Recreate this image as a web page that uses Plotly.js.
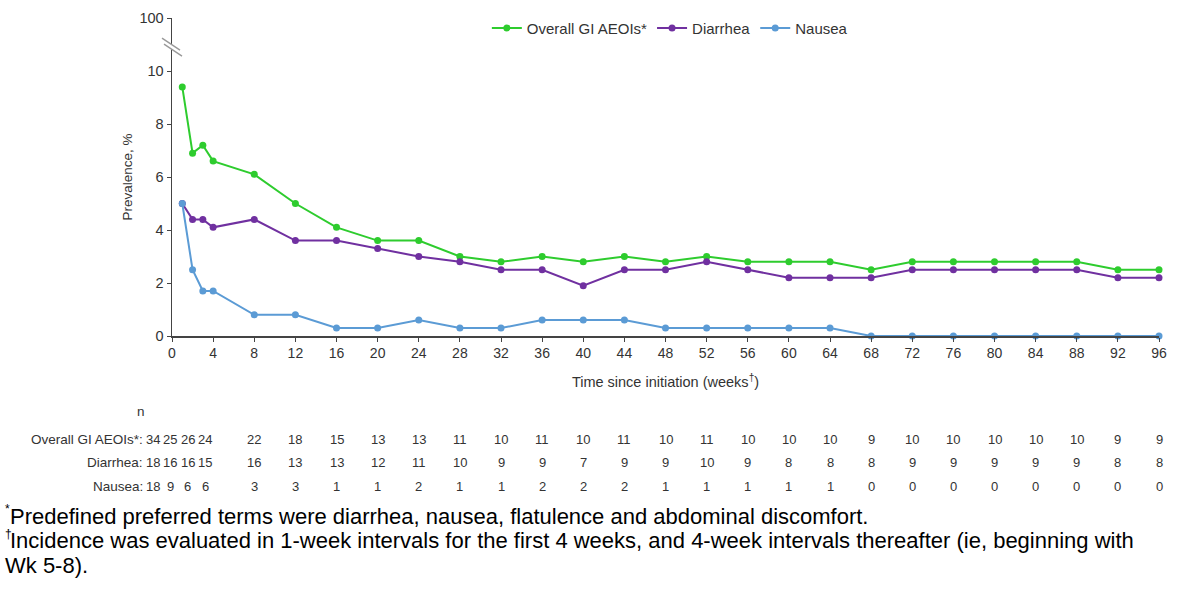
<!DOCTYPE html>
<html>
<head>
<meta charset="utf-8">
<script src="https://cdn.plot.ly/plotly-3.0.1.min.js"></script>
<style>html,body{margin:0;padding:0;background:#fff;}#chart{width:1200px;height:589px;}</style>
</head>
<body>
<div id="chart"></div>
<script>
// ---- Data ----
const weeks = [1,2,3,4,8,12,16,20,24,28,32,36,40,44,48,52,56,60,64,68,72,76,80,84,88,92,96];
const overallPct  = [9.4,6.9,7.2,6.6,6.1,5.0,4.1,3.6,3.6,3.0,2.8,3.0,2.8,3.0,2.8,3.0,2.8,2.8,2.8,2.5,2.8,2.8,2.8,2.8,2.8,2.5,2.5];
const diarrheaPct = [5.0,4.4,4.4,4.1,4.4,3.6,3.6,3.3,3.0,2.8,2.5,2.5,1.9,2.5,2.5,2.8,2.5,2.2,2.2,2.2,2.5,2.5,2.5,2.5,2.5,2.2,2.2];
const nauseaPct   = [5.0,2.5,1.7,1.7,0.8,0.8,0.3,0.3,0.6,0.3,0.3,0.6,0.6,0.6,0.3,0.3,0.3,0.3,0.3,0,0,0,0,0,0,0,0];
const overallN  = [34,25,26,24,22,18,15,13,13,11,10,11,10,11,10,11,10,10,10,9,10,10,10,10,10,9,9];
const diarrheaN = [18,16,16,15,16,13,13,12,11,10,9,9,7,9,9,10,9,8,8,8,9,9,9,9,9,8,8];
const nauseaN   = [18,9,6,6,3,3,1,1,2,1,1,2,2,2,1,1,1,1,1,0,0,0,0,0,0,0,0];
const seriesNames = ['Overall GI AEOIs*','Diarrhea','Nausea'];
const rowLabels = ['Overall GI AEOIs*:','Diarrhea:','Nausea:'];
const xTickVals = [0,4,8,12,16,20,24,28,32,36,40,44,48,52,56,60,64,68,72,76,80,84,88,92,96];
const yTickVals = [0,2,4,6,8,10,12];
const yTickText = ['0','2','4','6','8','10','100'];
const footMarks = ['*','†',''];
const footnotes = [
  'Predefined preferred terms were diarrhea, nausea, flatulence and abdominal discomfort.',
  'Incidence was evaluated in 1-week intervals for the first 4 weeks, and 4-week intervals thereafter (ie, beginning with',
  'Wk 5-8).'
];

// ---- Styles ----
const colors = ['#2ecc2e','#7030a0','#5b9bd5'];
const font = 'Liberation Sans, Arial, sans-serif';
const textColor = '#333333';
const xMax = 96;

const seriesPct = [overallPct, diarrheaPct, nauseaPct];
const traces = seriesPct.map((vals,i)=>({
  x: weeks, y: vals, name: seriesNames[i], type:'scatter', mode:'lines+markers',
  line:{color:colors[i], width:2}, marker:{color:colors[i], size:7},
  cliponaxis:false
}));

// table column positions (first 4 weeks compressed to the left)
const colPos = weeks.map(w => w <= 4 ? 3.25 - (4-w)*1.7 : w);
const rowsN = [overallN, diarrheaN, nauseaN];
const rowY = [-0.324, -0.399, -0.474];
const lblFont = {family:font, size:13.5, color:textColor};
const numFont = {family:font, size:13, color:textColor};
const annotations = [];
rowsN.forEach((row,r)=>{
  annotations.push({xref:'paper', yref:'paper', x:-0.027, y:rowY[r], xanchor:'right', yanchor:'middle',
    text:rowLabels[r], showarrow:false, font:lblFont});
  row.forEach((v,c)=>{
    annotations.push({xref:'paper', yref:'paper', x:colPos[c]/xMax, y:rowY[r], xanchor:'center', yanchor:'middle',
      text:String(v), showarrow:false, font:numFont});
  });
});
annotations.push({xref:'paper', yref:'paper', x:-0.031, y:-0.238, xanchor:'center', yanchor:'middle',
  text:'n', showarrow:false, font:lblFont});
// footnotes
const footY = [-0.567, -0.644, -0.721];
const footX = [8, 8, 3];
footnotes.forEach((t,i)=>{
  annotations.push({xref:'paper', yref:'paper', x:(footX[i]-172)/987, y:footY[i], xanchor:'left', yanchor:'middle',
    text:t, showarrow:false, align:'left', font:{family:font, size:22, color:'#000'}});
  if (footMarks[i]) {
    annotations.push({xref:'paper', yref:'paper', x:(3-172)/987, y:footY[i]+0.022, xanchor:'left', yanchor:'middle',
      text:footMarks[i], showarrow:false, font:{family:font, size:12, color:'#000'}});
  }
});

// axis break marks
const shapes = [
  {type:'line', xref:'paper', yref:'y', xsizemode:'pixel', ysizemode:'pixel', xanchor:0, yanchor:10.9,
   x0:-9, x1:9, y0:6, y1:-6, line:{color:'#ffffff', width:4}},
  {type:'line', xref:'paper', yref:'y', xsizemode:'pixel', ysizemode:'pixel', xanchor:0, yanchor:10.9,
   x0:-10, x1:8, y0:9, y1:-3, line:{color:'#999999', width:1.3}},
  {type:'line', xref:'paper', yref:'y', xsizemode:'pixel', ysizemode:'pixel', xanchor:0, yanchor:10.9,
   x0:-8, x1:10, y0:3, y1:-9, line:{color:'#999999', width:1.3}}
];

const layout = {
  width:1200, height:589,
  margin:{l:172, r:41, t:15, b:253},
  paper_bgcolor:'#fff', plot_bgcolor:'#fff',
  font:{family:font, color:textColor, size:14},
  showlegend:true,
  legend:{orientation:'h', x:0.319, y:0.968, xanchor:'left', yanchor:'middle', font:{family:font, size:15, color:textColor}, bgcolor:'rgba(0,0,0,0)'},
  xaxis:{range:[0,xMax], tickvals:xTickVals, ticks:'outside', ticklen:4, tickcolor:'#444', showline:true, linecolor:'#444', linewidth:1.5,
    showgrid:false, zeroline:false, tickfont:{family:font, size:14, color:textColor},
    title:{text:'Time since initiation (weeks<sup>†</sup>)', font:{family:font, size:14.5, color:textColor}, standoff:16}},
  yaxis:{range:[0,12], tickvals:yTickVals, ticktext:yTickText, ticks:'outside', ticklen:4, tickcolor:'#444', showline:true, linecolor:'#444', linewidth:1.5,
    showgrid:false, zeroline:false, tickfont:{family:font, size:14.5, color:textColor},
    title:{text:'Prevalence, %', font:{family:font, size:13.5, color:textColor}, standoff:3}},
  annotations:annotations,
  shapes:shapes
};
Plotly.newPlot('chart', traces, layout, {displayModeBar:false, staticPlot:true});
</script>
</body>
</html>
